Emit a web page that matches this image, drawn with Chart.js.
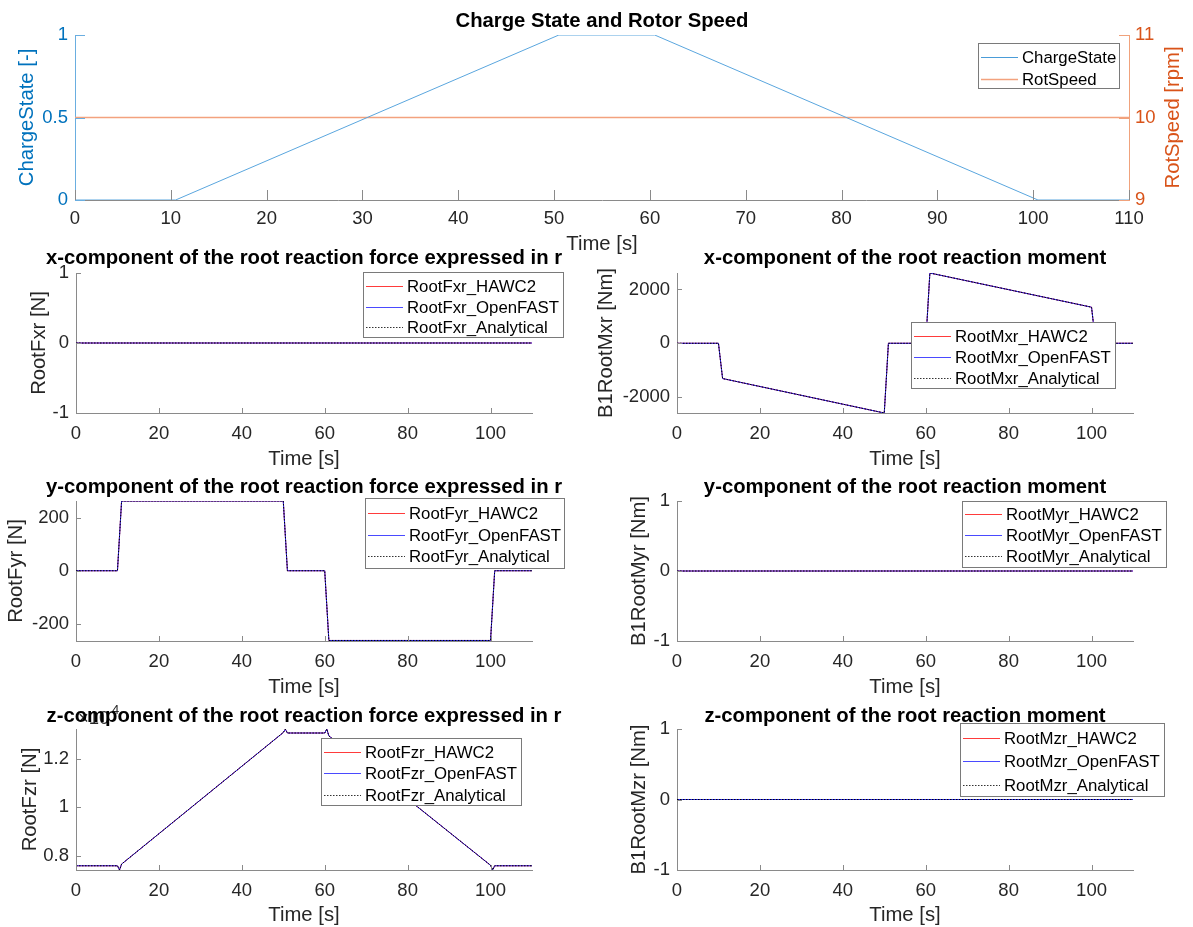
<!DOCTYPE html>
<html>
<head>
<meta charset="utf-8">
<title>Charge State and Rotor Speed</title>
<script src="https://cdn.jsdelivr.net/npm/chart.js@4.4.0/dist/chart.umd.min.js"></script>
<style>
  html, body { margin: 0; padding: 0; background: #ffffff; }
  #figure { position: relative; width: 1193px; height: 927px; overflow: hidden; background: #ffffff; }
  #figure canvas { position: absolute; left: 0; top: 0; }
</style>
</head>
<body>
<div id="figure">
  <canvas id="cState" width="1193" height="927"></canvas>
  <canvas id="cFxr" width="1193" height="927"></canvas>
  <canvas id="cMxr" width="1193" height="927"></canvas>
  <canvas id="cFyr" width="1193" height="927"></canvas>
  <canvas id="cMyr" width="1193" height="927"></canvas>
  <canvas id="cFzr" width="1193" height="927"></canvas>
  <canvas id="cMzr" width="1193" height="927"></canvas>
</div>
<script>
// ---- time-series data (breakpoints of each signal) ----
const csTime = [0, 10.5, 50.5, 60.5, 100.5, 110];
const chargeState = [0, 0, 1, 1, 0, 0];
const rotTime = [0, 110];
const rotSpeed = [10, 10];

const fxrTime = [0, 110];
const fxrHawc2 = [0, 0];
const fxrOpenFast = [0, 0];
const fxrAnalytical = [0, 0];

const mxrTime = [0, 10, 11, 50, 51, 60, 61, 100, 101, 110];
const mxrHawc2 = [0, 0, -1310, -2590, 0, 0, 2610, 1340, 0, 0];
const mxrOpenFast = [0, 0, -1310, -2590, 0, 0, 2610, 1340, 0, 0];
const mxrAnalytical = [0, 0, -1310, -2590, 0, 0, 2610, 1340, 0, 0];

const fyrTime = [0, 10, 11, 50, 51, 60, 61, 100, 101, 110];
const fyrHawc2 = [0, 0, 264, 264, 0, 0, -264, -264, 0, 0];
const fyrOpenFast = [0, 0, 264, 264, 0, 0, -264, -264, 0, 0];
const fyrAnalytical = [0, 0, 264, 264, 0, 0, -264, -264, 0, 0];

const myrTime = [0, 110];
const myrHawc2 = [0, 0];
const myrOpenFast = [0, 0];
const myrAnalytical = [0, 0];

const fzrTime = [0, 10, 10.5, 11, 50, 50.5, 51, 60, 60.5, 61, 100, 100.5, 101, 110];
const fzrHawc2 = [7580, 7580, 7410, 7650, 13100, 13240, 13080, 13080, 13245, 12960, 7600, 7410, 7580, 7580];
const fzrOpenFast = [7580, 7580, 7410, 7650, 13100, 13240, 13080, 13080, 13245, 12960, 7600, 7410, 7580, 7580];
const fzrAnalytical = [7580, 7580, 7410, 7650, 13100, 13240, 13080, 13080, 13245, 12960, 7600, 7410, 7580, 7580];

const mzrTime = [0, 110];
const mzrHawc2 = [0, 0];
const mzrOpenFast = [0, 0];
const mzrAnalytical = [0, 0];

// ---- tick labels ----
const stateTimeTicks = [0, 10, 20, 30, 40, 50, 60, 70, 80, 90, 100, 110];
const timeTicks = [0, 20, 40, 60, 80, 100];
const chargeTicks = [0, 0.5, 1];
const rotTicks = [9, 10, 11];
const unitTicks = [-1, 0, 1];
const mxrTicks = [-2000, 0, 2000];
const fyrTicks = [-200, 0, 200];
const fzrTicks = [8000, 10000, 12000];

// ---- styling ----
const FONT = '"Liberation Sans", Arial, Helvetica, sans-serif';
const TICK_SIZE = 18.5;
const LABEL_SIZE = 20.3;
const LEGEND_SIZE = 16.8;
const INK = '#262626';
const SPINE = '#8a8a8a';
const W = 1193, H = 927, X_AXIS_H = 40;

const pts = (t, v) => t.map((x, i) => ({ x: x, y: v[i] }));

// MATLAB-like decorations: inward ticks, legend box, titles and labels
const decor = {
  id: 'decor',
  afterDatasetsDraw(chart, args, o) {
    const ctx = chart.ctx, a = chart.chartArea;
    ctx.save();
    (o.tickMarks || []).forEach(t => {
      const s = chart.scales[t.scale];
      ctx.strokeStyle = t.color;
      ctx.lineWidth = 1;
      ctx.beginPath();
      s.ticks.forEach(tk => {
        const p = Math.round(s.getPixelForValue(tk.value)) + 0.5;
        if (t.side === 'bottom') { ctx.moveTo(p, a.bottom); ctx.lineTo(p, a.bottom - t.len); }
        else if (t.side === 'left') { ctx.moveTo(a.left, p); ctx.lineTo(a.left + t.len, p); }
        else { ctx.moveTo(a.right, p); ctx.lineTo(a.right - t.len, p); }
      });
      ctx.stroke();
    });
    const lg = o.legend;
    if (lg) {
      const [l, t, r, b] = lg.box;
      ctx.fillStyle = '#ffffff';
      ctx.fillRect(l, t, r - l, b - t);
      ctx.strokeStyle = '#7a7a7a';
      ctx.lineWidth = 1;
      ctx.strokeRect(l + 0.5, t + 0.5, r - l - 1, b - t - 1);
      chart.data.datasets.forEach((ds, i) => {
        const y = lg.rows[i];
        ctx.save();
        ctx.strokeStyle = ds.legendColor || ds.borderColor;
        ctx.lineWidth = ds.borderWidth;
        ctx.setLineDash(ds.borderDash || []);
        ctx.beginPath();
        ctx.moveTo(l + 3, y + 0.5);
        ctx.lineTo(l + 40, y + 0.5);
        ctx.stroke();
        ctx.restore();
        ctx.fillStyle = '#000000';
        ctx.font = LEGEND_SIZE + 'px ' + FONT;
        ctx.textAlign = 'left';
        ctx.textBaseline = 'middle';
        ctx.fillText(ds.label, l + 44, y + 1);
      });
    }
    ctx.restore();
  },
  afterDraw(chart, args, o) {
    const ctx = chart.ctx, a = chart.chartArea;
    const cx = (a.left + a.right) / 2, cy = (a.top + a.bottom) / 2;
    ctx.save();
    ctx.textBaseline = 'middle';
    if (o.exponent) {
      ctx.fillStyle = INK;
      ctx.textAlign = 'left';
      ctx.font = TICK_SIZE + 'px ' + FONT;
      ctx.fillText('\u00d710', a.left + 2, o.exponent.y);
      ctx.font = (TICK_SIZE * 0.7) + 'px ' + FONT;
      ctx.fillText(o.exponent.power, a.left + 36, o.exponent.y - 9);
    }
    if (o.title) {
      ctx.fillStyle = '#000000';
      ctx.textAlign = 'center';
      ctx.font = 'bold ' + LABEL_SIZE + 'px ' + FONT;
      ctx.fillText(o.title, cx, o.titleY);
    }
    if (o.xlabel) {
      ctx.fillStyle = INK;
      ctx.textAlign = 'center';
      ctx.font = LABEL_SIZE + 'px ' + FONT;
      ctx.fillText(o.xlabel, cx, o.xlabelY);
    }
    (o.ylabels || []).forEach(yl => {
      ctx.save();
      ctx.translate(yl.x, cy);
      ctx.rotate(-Math.PI / 2);
      ctx.fillStyle = yl.color || INK;
      ctx.textAlign = 'center';
      ctx.font = LABEL_SIZE + 'px ' + FONT;
      ctx.fillText(yl.text, 0, 0);
      ctx.restore();
    });
    ctx.restore();
  }
};

function fixedTicks(values) {
  return scale => { scale.ticks = values.map(v => ({ value: v })); };
}

function axis(opts) {
  return {
    type: 'linear',
    position: opts.position,
    min: opts.min,
    max: opts.max,
    afterBuildTicks: fixedTicks(opts.ticks),
    afterFit: opts.size !== undefined
      ? (s => { if (s.isHorizontal()) s.height = opts.size; else s.width = opts.size; })
      : undefined,
    grid: { display: true, drawOnChartArea: false, drawTicks: false, color: 'rgba(0,0,0,0)' },
    border: { display: true, color: opts.spine || SPINE, width: 1 },
    ticks: {
      autoSkip: false, maxRotation: 0, minRotation: 0,
      padding: opts.pad,
      color: opts.color || INK,
      font: { family: FONT, size: TICK_SIZE },
      callback: opts.format || (v => String(v))
    }
  };
}

function comparePanel(id, p) {
  const mk = (label, data, color, legendColor, width, dash, order) => ({
    label: label, data: data, borderColor: color, legendColor: legendColor, borderWidth: width,
    borderDash: dash, pointRadius: 0, tension: 0, fill: false, order: order
  });
  return new Chart(document.getElementById(id), {
    type: 'line',
    data: {
      datasets: [
        mk(p.names[0], pts(p.time, p.series[0]), '#ff2a2a', '#ff3b3b', 1, [], 3),
        mk(p.names[1], pts(p.time, p.series[1]), '#2a2aff', '#4a4aff', 1, [], 2),
        mk(p.names[2], pts(p.time, p.series[2]), '#000000', '#333333', 1, [1.5, 1.5], 1)
      ]
    },
    options: {
      responsive: false, animation: false, events: [],
      layout: { padding: { left: 0, top: p.area[1], right: W - p.area[2], bottom: H - p.area[3] - X_AXIS_H } },
      plugins: {
        legend: { display: false }, tooltip: { enabled: false },
        decor: {
          title: p.title, titleY: p.titleY,
          xlabel: 'Time [s]', xlabelY: p.xlabelY,
          ylabels: [{ text: p.ylabel, x: p.ylabelX }],
          exponent: p.exponent,
          tickMarks: [
            { scale: 'x', side: 'bottom', len: 5, color: SPINE },
            { scale: 'y', side: 'left', len: 5, color: SPINE }
          ],
          legend: p.legend
        }
      },
      scales: {
        x: axis({ position: 'bottom', min: 0, max: 110, ticks: timeTicks, size: X_AXIS_H, pad: 10 }),
        y: axis({ position: 'left', min: p.ylim[0], max: p.ylim[1], ticks: p.yticks, size: p.area[0], pad: 7, format: p.format })
      }
    },
    plugins: [decor]
  });
}

// ---- top panel: charge state with rotor speed on a second axis ----
new Chart(document.getElementById('cState'), {
  type: 'line',
  data: {
    datasets: [
      { label: 'ChargeState', data: pts(csTime, chargeState), yAxisID: 'y', borderColor: '#5aa6de', legendColor: '#4a9cd8', borderWidth: 1, pointRadius: 0, tension: 0, fill: false },
      { label: 'RotSpeed', data: pts(rotTime, rotSpeed), yAxisID: 'y2', borderColor: '#f3a27e', borderWidth: 1.3, pointRadius: 0, tension: 0, fill: false }
    ]
  },
  options: {
    responsive: false, animation: false, events: [],
    layout: { padding: { left: 0, top: 35, right: W - 1129 - 60, bottom: H - 200 - X_AXIS_H } },
    plugins: {
      legend: { display: false }, tooltip: { enabled: false },
      decor: {
        title: 'Charge State and Rotor Speed', titleY: 21,
        xlabel: 'Time [s]', xlabelY: 244,
        ylabels: [
          { text: 'ChargeState [-]', x: 27, color: '#0072bd' },
          { text: 'RotSpeed [rpm]', x: 1173, color: '#d95319' }
        ],
        tickMarks: [
          { scale: 'x', side: 'bottom', len: 10, color: SPINE },
          { scale: 'y', side: 'left', len: 10, color: '#6aaee0' },
          { scale: 'y2', side: 'right', len: 10, color: '#f0a27c' }
        ],
        legend: { box: [978, 43, 1120, 89], rows: [57, 79] }
      }
    },
    scales: {
      x: axis({ position: 'bottom', min: 0, max: 110, ticks: stateTimeTicks, size: X_AXIS_H, pad: 8 }),
      y: axis({ position: 'left', min: 0, max: 1, ticks: chargeTicks, size: 75, pad: 7, color: '#0072bd', spine: '#6aaee0' }),
      y2: axis({ position: 'right', min: 9, max: 11, ticks: rotTicks, size: 60, pad: 6, color: '#d95319', spine: '#f0a27c' })
    }
  },
  plugins: [decor]
});

// ---- root reaction forces (left) and moments (right) ----
comparePanel('cFxr', {
  area: [76, 273, 532, 413], time: fxrTime, series: [fxrHawc2, fxrOpenFast, fxrAnalytical],
  names: ['RootFxr_HAWC2', 'RootFxr_OpenFAST', 'RootFxr_Analytical'],
  ylim: [-1, 1], yticks: unitTicks,
  title: 'x-component of the root reaction force expressed in r', titleY: 258, xlabelY: 459,
  ylabel: 'RootFxr [N]', ylabelX: 39,
  legend: { box: [363, 272, 564, 338], rows: [286, 307, 327] }
});

comparePanel('cMxr', {
  area: [677, 273, 1133, 413], time: mxrTime, series: [mxrHawc2, mxrOpenFast, mxrAnalytical],
  names: ['RootMxr_HAWC2', 'RootMxr_OpenFAST', 'RootMxr_Analytical'],
  ylim: [-2590, 2610], yticks: mxrTicks,
  title: 'x-component of the root reaction moment', titleY: 258, xlabelY: 459,
  ylabel: 'B1RootMxr [Nm]', ylabelX: 606,
  legend: { box: [911, 322, 1116, 389], rows: [336, 357, 378] }
});

comparePanel('cFyr', {
  area: [76, 501, 532, 641], time: fyrTime, series: [fyrHawc2, fyrOpenFast, fyrAnalytical],
  names: ['RootFyr_HAWC2', 'RootFyr_OpenFAST', 'RootFyr_Analytical'],
  ylim: [-266, 264], yticks: fyrTicks,
  title: 'y-component of the root reaction force expressed in r', titleY: 487, xlabelY: 687,
  ylabel: 'RootFyr [N]', ylabelX: 16,
  legend: { box: [365, 498, 565, 569], rows: [513, 535, 556] }
});

comparePanel('cMyr', {
  area: [677, 501, 1133, 641], time: myrTime, series: [myrHawc2, myrOpenFast, myrAnalytical],
  names: ['RootMyr_HAWC2', 'RootMyr_OpenFAST', 'RootMyr_Analytical'],
  ylim: [-1, 1], yticks: unitTicks,
  title: 'y-component of the root reaction moment', titleY: 487, xlabelY: 687,
  ylabel: 'B1RootMyr [Nm]', ylabelX: 639,
  legend: { box: [962, 501, 1167, 568], rows: [514, 535, 556] }
});

comparePanel('cFzr', {
  area: [76, 729, 532, 870], time: fzrTime, series: [fzrHawc2, fzrOpenFast, fzrAnalytical],
  names: ['RootFzr_HAWC2', 'RootFzr_OpenFAST', 'RootFzr_Analytical'],
  ylim: [7405, 13246], yticks: fzrTicks,
  format: v => String(Math.round(v / 1000) / 10),
  exponent: { y: 719, power: '4' },
  title: 'z-component of the root reaction force expressed in r', titleY: 716, xlabelY: 915,
  ylabel: 'RootFzr [N]', ylabelX: 30,
  legend: { box: [321, 738, 522, 806], rows: [752, 773, 795] }
});

comparePanel('cMzr', {
  area: [677, 729, 1133, 870], time: mzrTime, series: [mzrHawc2, mzrOpenFast, mzrAnalytical],
  names: ['RootMzr_HAWC2', 'RootMzr_OpenFAST', 'RootMzr_Analytical'],
  ylim: [-1, 1], yticks: unitTicks,
  title: 'z-component of the root reaction moment', titleY: 716, xlabelY: 915,
  ylabel: 'B1RootMzr [Nm]', ylabelX: 639,
  legend: { box: [960, 723, 1165, 797], rows: [738, 761, 785] }
});
</script>
</body>
</html>
